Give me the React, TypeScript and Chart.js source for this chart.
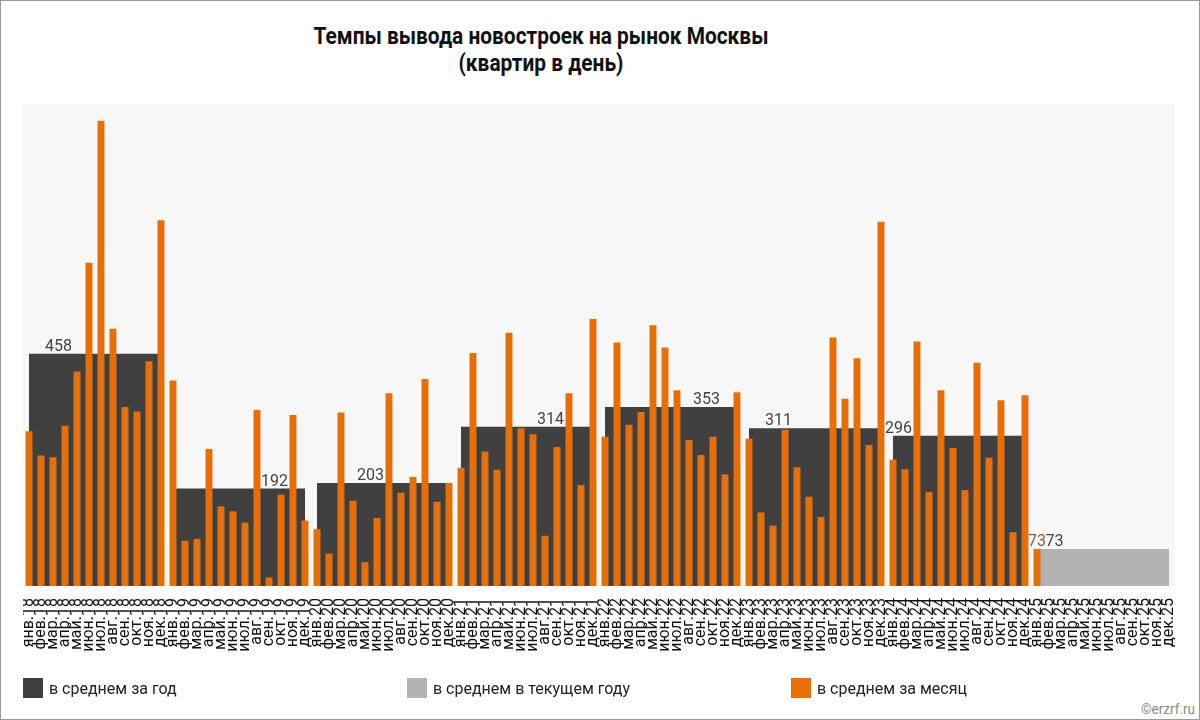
import { useEffect, useRef } from "react";
import { Chart, registerables } from "chart.js";

Chart.register(...registerables);

const monthNames = ["янв.", "фев.", "мар.", "апр.", "май.", "июн.", "июл.", "авг.", "сен.", "окт.", "ноя.", "дек."];
const yearSuffixes = ["18", "19", "20", "21", "22", "23", "24", "25"];
const monthLabels = yearSuffixes.flatMap((y) => monthNames.map((m) => m + y));

// квартир в день, по месяцам
const monthlyValues = [
  305, 257, 254, 316, 423, 637, 917, 507, 353, 344, 443, 721, // 2018
  405, 89, 93, 270, 157, 147, 125, 347, 17, 180, 337, 129, // 2019
  112, 64, 342, 168, 47, 134, 380, 184, 215, 408, 166, 203, // 2020
  233, 459, 265, 229, 499, 311, 299, 99, 274, 380, 199, 526, // 2021
  294, 480, 318, 343, 514, 470, 386, 288, 258, 294, 220, 382, // 2022
  290, 145, 119, 308, 234, 176, 136, 490, 369, 449, 278, 718, // 2023
  249, 230, 482, 185, 386, 272, 189, 440, 253, 366, 106, 376, // 2024
  73, null, null, null, null, null, null, null, null, null, null, null, // 2025
];

const yearlyAverage = [458, 192, 203, 314, 353, 311, 296, null];
const currentYearAverage = [null, null, null, null, null, null, null, 73];
// month over which each yearly value is written
const yearLabelMonth = ["мар.18", "сен.19", "май.20", "авг.21", "сен.22", "мар.23", "янв.24", "фев.25"];

const ORANGE = "#e66f0b";
const DARK = "#404040";
const LIGHT = "#b3b3b3";

const PLOT_H = 482;
const CANVAS_H = 575;

const plotBackground = {
  id: "plotBackground",
  beforeDatasetsDraw(chart: any) {
    const { ctx, chartArea } = chart;
    ctx.save();
    ctx.fillStyle = "#f7f7f7";
    ctx.fillRect(chartArea.left, chartArea.top, chartArea.right - chartArea.left, chartArea.bottom - chartArea.top);
    ctx.restore();
  },
};

const valueLabels = {
  id: "valueLabels",
  afterDatasetsDraw(chart: any) {
    const { ctx } = chart;
    const xs = chart.scales.x;
    const ys = chart.scales.y;
    const step = xs.width / monthLabels.length;
    ctx.save();
    ctx.font = "16px Roboto";
    ctx.textAlign = "center";
    ctx.textBaseline = "alphabetic";
    yearLabelMonth.forEach((m, i) => {
      const v = yearlyAverage[i] ?? currentYearAverage[i];
      if (v == null) return;
      const px = xs.getPixelForValue(monthLabels.indexOf(m)) + step * 0.45;
      ctx.fillStyle = "#444";
      ctx.fillText(String(v), px, ys.getPixelForValue(v) - 3);
    });
    // latest month value
    let last = -1;
    monthlyValues.forEach((v, i) => {
      if (v != null) last = i;
    });
    const lv = monthlyValues[last] as number;
    ctx.fillStyle = "#8a5a3c";
    ctx.fillText(String(lv), xs.getPixelForValue(last), ys.getPixelForValue(lv) - 3);
    ctx.restore();
  },
};

export default function App() {
  const canvasRef = useRef<HTMLCanvasElement | null>(null);

  useEffect(() => {
    document.body.style.margin = "0";
    if (!canvasRef.current) return;
    Chart.defaults.font.family = "Roboto";

    const chart = new Chart(canvasRef.current, {
      type: "bar",
      data: {
        labels: monthLabels,
        datasets: [
          {
            label: "в среднем за месяц",
            data: monthlyValues,
            backgroundColor: ORANGE,
            xAxisID: "x",
            barPercentage: 0.58,
            categoryPercentage: 1,
            grouped: false,
            order: 0,
          },
          {
            label: "в среднем за год",
            data: yearlyAverage,
            backgroundColor: DARK,
            xAxisID: "x2",
            barPercentage: 0.917,
            categoryPercentage: 1,
            grouped: false,
            order: 1,
          },
          {
            label: "в среднем в текущем году",
            data: currentYearAverage,
            backgroundColor: LIGHT,
            xAxisID: "x2",
            barPercentage: 0.917,
            categoryPercentage: 1,
            grouped: false,
            order: 1,
          },
        ],
      },
      options: {
        responsive: false,
        animation: false,
        layout: { padding: 0 },
        plugins: {
          legend: { display: false },
          tooltip: { enabled: false },
        },
        scales: {
          x: {
            type: "category",
            offset: true,
            grid: { display: false },
            border: { display: false },
            ticks: {
              autoSkip: false,
              maxRotation: 90,
              minRotation: 90,
              padding: 4,
              color: "#111",
              font: { size: 16, family: "Roboto" },
            },
            afterFit(scale: any) {
              scale.height = CANVAS_H - PLOT_H;
              scale.paddingLeft = 0;
              scale.paddingRight = 0;
            },
          },
          x2: {
            type: "category",
            labels: yearSuffixes,
            display: false,
            offset: true,
            grid: { display: false },
          },
          y: {
            display: false,
            min: 0,
            max: 950,
          },
        },
      },
      plugins: [plotBackground, valueLabels],
    });

    return () => chart.destroy();
  }, []);

  const legendItems = [
    { label: "в среднем за год", color: DARK },
    { label: "в среднем в текущем году", color: LIGHT },
    { label: "в среднем за месяц", color: ORANGE },
  ];

  return (
    <div
      style={{
        position: "relative",
        width: 1200,
        height: 720,
        boxSizing: "border-box",
        border: "1px solid #9a9a9a",
        background: "#fff",
        fontFamily: "Roboto, sans-serif",
        overflow: "hidden",
      }}
    >
      <div
        style={{
          position: "absolute",
          left: 0,
          top: 22,
          width: 1080,
          textAlign: "center",
          fontWeight: 700,
          fontSize: 24,
          lineHeight: "27px",
          color: "#111",
        }}
      >
        <div style={{ transform: "scaleX(0.87)" }}>Темпы вывода новостроек на рынок Москвы</div>
        <div style={{ transform: "scaleX(0.87)" }}>(квартир в день)</div>
      </div>
      <canvas
        ref={canvasRef}
        width={1152}
        height={CANVAS_H}
        style={{ position: "absolute", left: 22, top: 103, width: 1152, height: CANVAS_H }}
      />
      <div
        style={{
          position: "absolute",
          left: 22,
          top: 677,
          width: 1152,
          display: "grid",
          gridTemplateColumns: "1fr 1fr 1fr",
        }}
      >
        {legendItems.map((it) => (
          <div key={it.label} style={{ display: "flex", alignItems: "center", fontSize: 16, color: "#222" }}>
            <span style={{ display: "inline-block", width: 20, height: 20, background: it.color, marginRight: 6 }} />
            {it.label}
          </div>
        ))}
      </div>
      <div
        style={{
          position: "absolute",
          right: 4,
          bottom: 1,
          fontSize: 15,
          color: "#8a8a8a",
          transform: "scaleX(0.9)",
          transformOrigin: "right",
        }}
      >
        ©erzrf.ru
      </div>
    </div>
  );
}
